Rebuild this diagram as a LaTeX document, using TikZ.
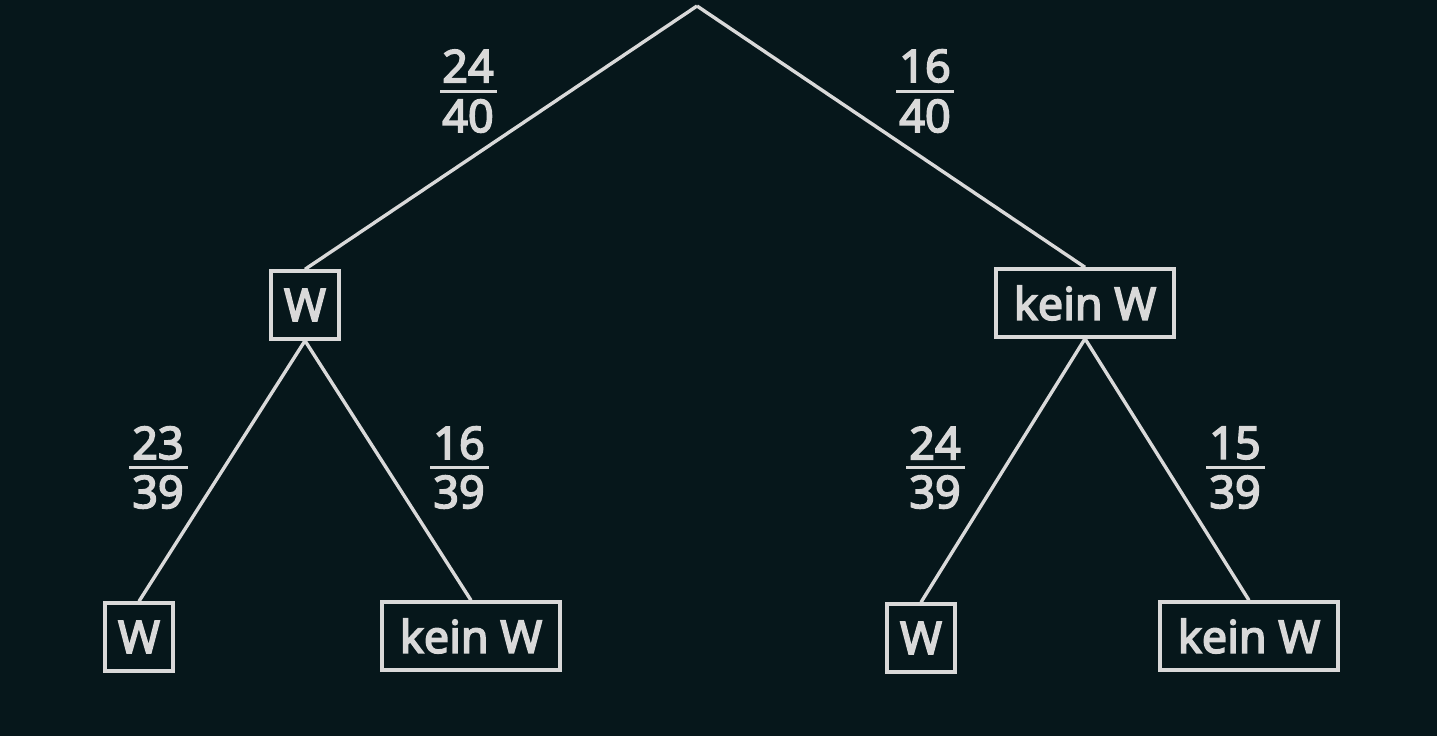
\documentclass[tikz,border=0pt]{standalone}
\usepackage{fontspec}
\setmainfont{Noto Sans}[FakeBold=3.5]
\definecolor{bg}{HTML}{06171B}
\definecolor{fg}{HTML}{D9D9D9}
\begin{document}
\begin{tikzpicture}[x=1pt,y=-1pt,
  every node/.style={text=fg,font=\fontsize{45}{55}\selectfont},
  box/.style={draw=fg,line width=3.4pt,inner sep=0pt,minimum height=68pt},
  smallbox/.style={box,minimum width=68pt},
  widebox/.style={box,minimum width=178pt},
  edge/.style={draw=fg,line width=3.4pt},
  bar/.style={draw=fg,line width=3pt},
  num/.style={inner sep=0pt}]
\fill[bg] (0,0) rectangle (1437,736);
\useasboundingbox (0,0) rectangle (1437,736);
\coordinate (root) at (697,6);
\node[smallbox] (L) at (305,305) {W};
\node[widebox] (R) at (1085,303) {kein W};
\node[smallbox] (LL) at (139,637) {W};
\node[widebox] (LR) at (471,636) {kein W};
\node[smallbox] (RL) at (921,638) {W};
\node[widebox] (RR) at (1249,636) {kein W};
\draw[edge] (root) -- (L.north);
\draw[edge] (root) -- (R.north);
\draw[edge] (L.south) -- (LL.north);
\draw[edge] (L.south) -- (LR.north);
\draw[edge] (R.south) -- (RL.north);
\draw[edge] (R.south) -- (RR.north);
% fractions
\node[num] (f1n) at (468,66) {24};
\node[num] (f1d) at (468,116) {40};
\draw[bar] (440,91) -- (497,91);
\node[num] (f2n) at (925,66) {16};
\node[num] (f2d) at (925,116) {40};
\draw[bar] (896,91) -- (954,91);
\node[num] (f3n) at (158,443) {23};
\node[num] (f3d) at (158,492) {39};
\draw[bar] (129,467) -- (188,467);
\node[num] (f4n) at (459,443) {16};
\node[num] (f4d) at (459,492) {39};
\draw[bar] (430,467) -- (489,467);
\node[num] (f5n) at (935,443) {24};
\node[num] (f5d) at (935,492) {39};
\draw[bar] (906,467) -- (965,467);
\node[num] (f6n) at (1235,443) {15};
\node[num] (f6d) at (1235,492) {39};
\draw[bar] (1206,467) -- (1265,467);
\end{tikzpicture}
\end{document}
